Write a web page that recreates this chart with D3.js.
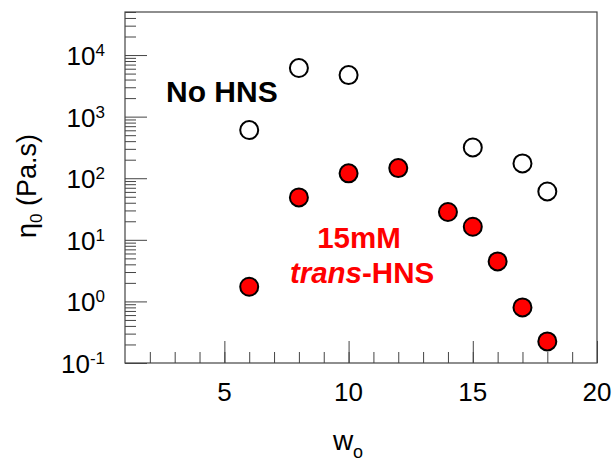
<!DOCTYPE html>
<html>
<head>
<meta charset="utf-8">
<script src="https://cdn.jsdelivr.net/npm/d3@7"></script>
<style>
  body { margin: 0; background: #fff; }
  text { font-family: "Liberation Sans", Arial, sans-serif; }
</style>
</head>
<body>
<svg width="613" height="458"></svg>
<script>
// w_o values
var wNoHns = [6, 8, 10, 15, 17, 18]
var etaNoHns = [606, 6150, 4730, 316, 174, 61]

var wTrans = [6, 8, 10, 12, 14, 15, 16, 17, 18]
var etaTrans = [1.73, 48.8, 120, 146, 28.3, 16.3, 4.46, 0.80, 0.224]

var xTickLabels = [5, 10, 15, 20]
var yExponents = [-1, 0, 1, 2, 3, 4]

var svg = d3.select('svg')
var plotL = 125, plotR = 597, plotT = 12, plotB = 363

var x = d3.scaleLinear().domain([1, 20]).range([plotL, plotR])
var y = d3.scaleLog().domain([0.1, 50000]).range([plotB, plotT])

var axisColor = '#444'

// minor ticks x
svg.append('g')
  .attr('transform', 'translate(0,' + plotB + ')')
  .call(d3.axisBottom(x).tickValues(d3.range(2, 20)).tickSize(-11).tickFormat(''))
svg.append('g')
  .attr('transform', 'translate(0,' + plotB + ')')
  .call(d3.axisBottom(x).tickValues(xTickLabels).tickSize(-22).tickFormat(''))

// minor ticks y
var minorY = []
yExponents.forEach(function(e) {
  for (var m = 2; m <= 9; m++) {
    var v = m * Math.pow(10, e)
    if (v <= 50000) minorY.push(v)
  }
})
svg.append('g')
  .attr('transform', 'translate(' + plotL + ',0)')
  .call(d3.axisLeft(y).tickValues(minorY).tickSize(-11).tickFormat(''))
svg.append('g')
  .attr('transform', 'translate(' + plotL + ',0)')
  .call(d3.axisLeft(y).tickValues(yExponents.map(function(e) { return Math.pow(10, e) })).tickSize(-22).tickFormat(''))

svg.selectAll('.domain').remove()
svg.selectAll('.tick line').attr('stroke', axisColor)

svg.append('rect')
  .attr('x', plotL).attr('y', plotT)
  .attr('width', plotR - plotL).attr('height', plotB - plotT)
  .attr('fill', 'none').attr('stroke', axisColor).attr('stroke-width', 1.2)

// x tick labels
svg.selectAll('.xlab')
  .data(xTickLabels)
  .enter()
  .append('text')
  .attr('x', function(d) { return x(d) })
  .attr('y', 401)
  .attr('text-anchor', 'middle')
  .style('font-size', '26px')
  .text(function(d) { return d })

// y tick labels
var ylab = svg.selectAll('.ylab')
  .data(yExponents)
  .enter()
  .append('text')
  .attr('x', 105)
  .attr('y', function(d) { return y(Math.pow(10, d)) + 10 })
  .attr('text-anchor', 'end')
  .style('font-size', '26px')
ylab.append('tspan').text('10')
ylab.append('tspan')
  .attr('dy', -9)
  .style('font-size', '17px')
  .text(function(d) { return d })

// axis titles
var yt = svg.append('text')
  .attr('transform', 'translate(36,186) rotate(-90)')
  .attr('text-anchor', 'middle')
  .style('font-size', '27px')
yt.append('tspan').text('η')
yt.append('tspan').attr('dy', 6).style('font-size', '17px').text('0')
yt.append('tspan').attr('dy', -6).text(' (Pa.s)')

var xt = svg.append('text')
  .attr('x', 348)
  .attr('y', 450)
  .attr('text-anchor', 'middle')
  .style('font-size', '28px')
xt.append('tspan').text('w')
xt.append('tspan').attr('dy', 8).style('font-size', '18px').text('o')

// points
svg.selectAll('.open')
  .data(wNoHns)
  .enter()
  .append('circle')
  .attr('cx', function(d) { return x(d) })
  .attr('cy', function(d, i) { return y(etaNoHns[i]) })
  .attr('r', 9)
  .attr('fill', 'white')
  .attr('stroke', 'black')
  .attr('stroke-width', 2)

svg.selectAll('.filled')
  .data(wTrans)
  .enter()
  .append('circle')
  .attr('cx', function(d) { return x(d) })
  .attr('cy', function(d, i) { return y(etaTrans[i]) })
  .attr('r', 9)
  .attr('fill', '#ff0000')
  .attr('stroke', 'black')
  .attr('stroke-width', 2)

// annotations
svg.append('text')
  .attr('x', 166).attr('y', 102)
  .style('font-size', '30px')
  .style('font-weight', 'bold')
  .text('No HNS')

svg.append('text')
  .attr('x', 359).attr('y', 248)
  .attr('text-anchor', 'middle')
  .style('font-size', '29.5px')
  .style('font-weight', 'bold')
  .attr('fill', '#ff0000')
  .text('15mM')

var tr = svg.append('text')
  .attr('x', 362).attr('y', 283)
  .attr('text-anchor', 'middle')
  .style('font-size', '29.5px')
  .style('font-weight', 'bold')
  .attr('fill', '#ff0000')
tr.append('tspan').style('font-style', 'italic').text('trans')
tr.append('tspan').text('-HNS')
</script>
</body>
</html>
